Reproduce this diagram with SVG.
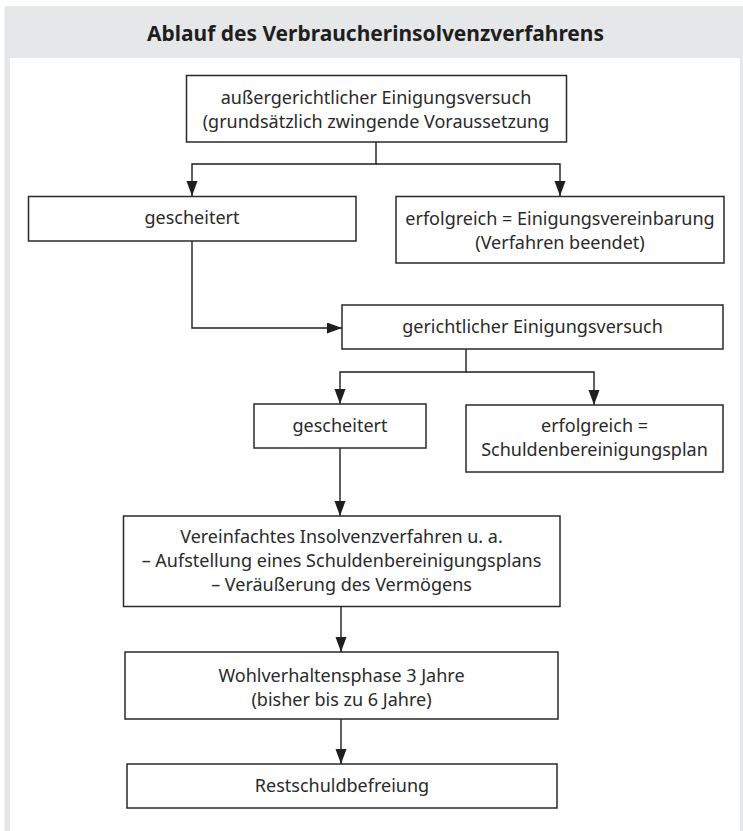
<svg xmlns="http://www.w3.org/2000/svg" width="743" height="831" viewBox="0 0 743 831">
<defs>
<marker id="arr" markerUnits="userSpaceOnUse" markerWidth="16" markerHeight="12" refX="15" refY="5.5" orient="auto">
<path d="M0,0 L15,5.5 L0,11 z" fill="#1e1e1e"/>
</marker>
<style>
.box{fill:#fff;stroke:#2a2a2a;stroke-width:1.5}
.t{font-family:"Noto Sans","Open Sans",sans-serif;font-size:18px;fill:#2a2a2a;text-anchor:middle}
.title{font-family:"Noto Sans","Roboto",sans-serif;font-size:22px;font-weight:bold;fill:#1e1e1e;text-anchor:middle}
.c{fill:none;stroke:#1e1e1e;stroke-width:1.4}
</style>
</defs>
<rect x="4.5" y="6" width="738.5" height="825" fill="#e6e7e8"/>
<rect x="10" y="58" width="730" height="773" fill="#fff"/>
<text class="title" x="375.5" y="40.5" textLength="457" lengthAdjust="spacingAndGlyphs">Ablauf des Verbraucherinsolvenzverfahrens</text>

<g id="connectors">
<path class="c" d="M376,142 V164 H192 V196" marker-end="url(#arr)"/>
<path class="c" d="M376,164 H560 V196" marker-end="url(#arr)"/>
<path class="c" d="M192,241 V328 H342" marker-end="url(#arr)"/>
<path class="c" d="M466,349 V372 H340 V404" marker-end="url(#arr)"/>
<path class="c" d="M466,372 H594 V405" marker-end="url(#arr)"/>
<path class="c" d="M340,448 V516" marker-end="url(#arr)"/>
<path class="c" d="M341,607 V652" marker-end="url(#arr)"/>
<path class="c" d="M341,719 V764" marker-end="url(#arr)"/>
</g>

<g id="n1">
<rect class="box" x="186.5" y="75.5" width="380" height="66.5"/>
<text class="t" x="376" y="104">außergerichtlicher Einigungsversuch</text>
<text class="t" x="376" y="128">(grundsätzlich zwingende Voraussetzung</text>
</g>
<g id="n2">
<rect class="box" x="28.5" y="196.5" width="327.5" height="44.5"/>
<text class="t" x="192" y="224">gescheitert</text>
</g>
<g id="n3">
<rect class="box" x="396" y="196.5" width="328" height="66.5"/>
<text class="t" x="560" y="225">erfolgreich = Einigungsvereinbarung</text>
<text class="t" x="560" y="249">(Verfahren beendet)</text>
</g>
<g id="n4">
<rect class="box" x="342" y="305" width="381" height="44"/>
<text class="t" x="532.5" y="333">gerichtlicher Einigungsversuch</text>
</g>
<g id="n5">
<rect class="box" x="254" y="404" width="172" height="44"/>
<text class="t" x="340" y="432">gescheitert</text>
</g>
<g id="n6">
<rect class="box" x="466" y="405" width="257" height="67"/>
<text class="t" x="594.5" y="432">erfolgreich =</text>
<text class="t" x="594.5" y="456">Schuldenbereinigungsplan</text>
</g>
<g id="n7">
<rect class="box" x="123.5" y="516" width="436.5" height="90.5"/>
<text class="t" x="341.5" y="543">Vereinfachtes Insolvenzverfahren u. a.</text>
<text class="t" x="341.5" y="567">– Aufstellung eines Schuldenbereinigungsplans</text>
<text class="t" x="341.5" y="591">– Veräußerung des Vermögens</text>
</g>
<g id="n8">
<rect class="box" x="125" y="652" width="433" height="67"/>
<text class="t" x="341.5" y="682">Wohlverhaltensphase 3 Jahre</text>
<text class="t" x="341.5" y="706">(bisher bis zu 6 Jahre)</text>
</g>
<g id="n9">
<rect class="box" x="127" y="764" width="430" height="44"/>
<text class="t" x="342" y="792">Restschuldbefreiung</text>
</g>
</svg>
